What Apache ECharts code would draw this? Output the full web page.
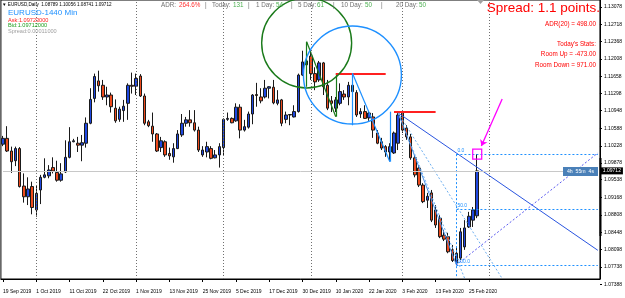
<!DOCTYPE html>
<html>
<head>
<meta charset="utf-8">
<script src="https://cdn.jsdelivr.net/npm/echarts@6/dist/echarts.min.js"></script>
<style>
html, body { margin: 0; padding: 0; background: #fff; }
#main { width: 625px; height: 298px; }
</style>
</head>
<body>
<div id="main"></div>
<script>
// daily bars, EURUSD
const dates = ['19 Sep 2019','20 Sep 2019','23 Sep 2019','24 Sep 2019','25 Sep 2019','26 Sep 2019','27 Sep 2019','30 Sep 2019',
  '1 Oct 2019','2 Oct 2019','3 Oct 2019','4 Oct 2019','7 Oct 2019','8 Oct 2019','9 Oct 2019','10 Oct 2019','11 Oct 2019',
  '14 Oct 2019','15 Oct 2019','16 Oct 2019','17 Oct 2019','18 Oct 2019','20 Oct 2019','21 Oct 2019','22 Oct 2019',
  '23 Oct 2019','24 Oct 2019','25 Oct 2019','28 Oct 2019','29 Oct 2019','30 Oct 2019','31 Oct 2019',
  '1 Nov 2019','4 Nov 2019','5 Nov 2019','6 Nov 2019','7 Nov 2019','8 Nov 2019','11 Nov 2019','12 Nov 2019','13 Nov 2019',
  '14 Nov 2019','15 Nov 2019','18 Nov 2019','19 Nov 2019','20 Nov 2019','21 Nov 2019','22 Nov 2019','25 Nov 2019',
  '26 Nov 2019','27 Nov 2019','28 Nov 2019','29 Nov 2019',
  '2 Dec 2019','3 Dec 2019','4 Dec 2019','5 Dec 2019','6 Dec 2019','9 Dec 2019','10 Dec 2019','11 Dec 2019','12 Dec 2019','13 Dec 2019','16 Dec 2019','17 Dec 2019',
  '18 Dec 2019','19 Dec 2019','20 Dec 2019','23 Dec 2019','24 Dec 2019','26 Dec 2019','27 Dec 2019','30 Dec 2019','31 Dec 2019',
  '2 Jan 2020','3 Jan 2020','6 Jan 2020','7 Jan 2020','8 Jan 2020','9 Jan 2020','10 Jan 2020',
  '13 Jan 2020','14 Jan 2020','15 Jan 2020','16 Jan 2020','17 Jan 2020','20 Jan 2020','21 Jan 2020','22 Jan 2020',
  '23 Jan 2020','24 Jan 2020','27 Jan 2020','28 Jan 2020','29 Jan 2020','30 Jan 2020','31 Jan 2020',
  '3 Feb 2020','4 Feb 2020','5 Feb 2020','6 Feb 2020','7 Feb 2020','10 Feb 2020','11 Feb 2020','12 Feb 2020','13 Feb 2020',
  '14 Feb 2020','17 Feb 2020','18 Feb 2020','19 Feb 2020','20 Feb 2020','21 Feb 2020','24 Feb 2020','25 Feb 2020','26 Feb 2020','27 Feb 2020'];

const opens = [1.1026,1.1038,1.1012,1.0992,1.1017,1.0940,1.0918,1.0939,1.0891,1.0932,
  1.0958,1.0961,1.0978,1.0968,1.0952,1.0969,1.0999,1.1031,1.1028,1.1024,
  1.1028,1.1069,1.1120,1.1156,1.1147,1.1123,1.1127,1.1100,1.1077,1.1095,
  1.1110,1.1147,1.1145,1.1166,1.1125,1.1072,1.1063,1.1047,1.1019,1.1031,
  1.1007,1.1000,1.1017,1.1045,1.1069,1.1076,1.1070,1.1055,1.1004,1.1010,
  1.1017,1.0998,1.1004,1.1019,1.1077,1.1079,1.1074,1.1102,1.1055,1.1061,
  1.1088,1.1128,1.1123,1.1123,1.1141,1.1143,1.1110,1.1117,1.1077,1.1086,
  1.1082,1.1093,1.1168,1.1197,1.1207,1.1171,1.1158,1.1193,1.1147,1.1115,
  1.1100,1.1110,1.1129,1.1123,1.1134,1.1132,1.1088,1.1093,1.1080,1.1082,
  1.1049,1.1031,1.1021,1.1010,1.1008,1.1028,1.1090,1.1059,1.1041,1.0998,
  1.0977,1.0942,1.0911,1.0926,1.0891,1.0874,1.0839,1.0836,1.0809,1.0782,
  1.0792,1.0815,1.0856,1.0870,1.08789];
const closes = [1.1038,1.1012,1.0990,1.1017,1.0939,1.0918,1.0934,1.0896,1.0925,1.0958,
  1.0963,1.0973,1.0971,1.0952,1.0965,1.0999,1.1031,1.1033,1.1024,1.1029,
  1.1069,1.1118,1.1165,1.1146,1.1123,1.1127,1.1103,1.1074,1.1098,1.1104,
  1.1147,1.1145,1.1161,1.1125,1.1069,1.1064,1.1047,1.1012,1.1033,1.1004,
  1.1002,1.1017,1.1047,1.1069,1.1076,1.1070,1.1055,1.1014,1.1014,1.1021,
  1.0997,1.1004,1.1021,1.1077,1.1079,1.1070,1.1102,1.1055,1.1062,1.1088,
  1.1127,1.1126,1.1115,1.1141,1.1144,1.1111,1.1117,1.1069,1.1086,1.1087,
  1.1093,1.1168,1.1195,1.1189,1.1171,1.1154,1.1193,1.1144,1.1100,1.1110,
  1.1117,1.1134,1.1123,1.1147,1.1147,1.1086,1.1093,1.1079,1.1090,1.1055,
  1.1028,1.1018,1.1010,1.1021,1.1049,1.1086,1.1055,1.1041,1.0998,1.0963,
  1.0942,1.0908,1.0919,1.0870,1.0860,1.0836,1.0831,1.0805,1.0787,1.0802,
  1.0846,1.0854,1.0878,1.0891,1.09712];
const lows = [1.1022,1.1010,1.0967,1.0981,1.0937,1.0906,1.0901,1.0882,1.0877,1.0903,
  1.0956,1.0956,1.0966,1.0949,1.0949,1.0967,1.0997,1.1030,1.1010,1.0991,
  1.1019,1.1067,1.1112,1.1134,1.1117,1.1106,1.1091,1.1070,1.1072,1.1072,
  1.1076,1.1130,1.1127,1.1123,1.1065,1.1061,1.1031,1.1010,1.1010,1.1000,
  1.0994,1.0988,1.1016,1.1041,1.1062,1.1062,1.1052,1.1010,1.1000,1.0999,
  1.0995,1.0997,1.0978,1.1002,1.1074,1.1069,1.1072,1.1038,1.1052,1.1058,
  1.1067,1.1103,1.1110,1.1120,1.1120,1.1108,1.1106,1.1063,1.1069,1.1065,
  1.1081,1.1091,1.1166,1.1178,1.1158,1.1137,1.1154,1.1127,1.1096,1.1092,
  1.1092,1.1106,1.1117,1.1106,1.1110,1.1082,1.1080,1.1078,1.1074,1.1039,
  1.1026,1.1014,1.1000,1.0991,1.1006,1.1014,1.1049,1.1035,1.0994,1.0958,
  1.0938,1.0905,1.0895,1.0866,1.0854,1.0833,1.0827,1.0802,1.0784,1.0778,
  1.0788,1.0809,1.0854,1.0856,1.08741];
const highs = [1.1043,1.1063,1.1021,1.1021,1.1020,1.0966,1.0958,1.0949,1.0941,1.0963,
  1.0997,1.0983,1.0999,1.0992,1.0987,1.1034,1.1061,1.1037,1.1041,1.1045,
  1.1081,1.1141,1.1171,1.1177,1.1158,1.1144,1.1132,1.1118,1.1103,1.1117,
  1.1151,1.1173,1.1171,1.1170,1.1130,1.1076,1.1091,1.1049,1.1041,1.1034,
  1.1019,1.1028,1.1055,1.1088,1.1082,1.1096,1.1096,1.1062,1.1022,1.1031,
  1.1022,1.1014,1.1028,1.1079,1.1091,1.1081,1.1110,1.1108,1.1076,1.1093,
  1.1129,1.1152,1.1141,1.1158,1.1145,1.1158,1.1137,1.1119,1.1093,1.1088,
  1.1106,1.1171,1.1218,1.1236,1.1219,1.1184,1.1197,1.1195,1.1158,1.1125,
  1.1123,1.1151,1.1137,1.1154,1.1168,1.1137,1.1100,1.1106,1.1094,1.1090,
  1.1055,1.1039,1.1024,1.1028,1.1052,1.1090,1.1095,1.1065,1.1047,1.1004,
  1.0983,1.0946,1.0926,1.0932,1.0901,1.0880,1.0850,1.0844,1.0819,1.0813,
  1.0854,1.0870,1.0887,1.0897,1.10056];

const priceTicks = [1.13078,1.12718,1.12368,1.12008,1.11658,1.11298,1.10948,1.10588,1.10228,
  1.09878,1.09538,1.09168,1.08808,1.08448,1.08098,1.07738];
const bottomTick = 1.07388;
const bid = 1.09712;
const ask = 1.09723;

// period separators (bar index)
const separators = [8, 32, 53, 74, 96, 117];

// drawn objects, in [bar index, price]
const greenCircle = [73.4, 1.12339, 0.00924];
const blueCircle = [84.3, 1.11681, 0.01006];
const greenLines = [[73.3, 1.12365, 80.3, 1.10825], [73.3, 1.12365, 73.3, 1.1144], [80.3, 1.11716, 80.3, 1.10825]];
const redLines = [[80.3, 1.11716, 91.5, 1.11716], [93.5, 1.10928, 104.1, 1.10928]];
const blueLines = [[84.3, 1.11716, 84.3, 1.10648], [84.3, 1.11716, 93.45, 1.09901], [93.45, 1.10928, 93.45, 1.09901]];
const trendLine = [95.2, 1.10901, 143, 1.0808];
const fanBase = [95.2, 1.10901, 109.4, 1.0778];
const fanDotted = [[95.2, 1.10901, 111.3, 1.0750], [95.2, 1.10901, 120.3, 1.0750]];
const riseLine = [109.4, 1.0778, 143, 1.1008];
const fibLevels = [1.10056, 1.08918, 1.0778];
const fibNames = ['0.0', '50.0', '100.0'];
const fibStart = 109.4;
const arrow = [120.1, 1.11189, 115.3, 1.10223];

const nFuture = 29;
const cats = dates.concat(Array.from({ length: nFuture }, (_, k) => '+' + k));
const candles = dates.map((d, i) => [opens[i], closes[i], lows[i], highs[i]]);
const xEnd = cats.length - 1;

function seg(a, style) {
  return [{ coord: [a[0], a[1]], lineStyle: style }, { coord: [a[2], a[3]] }];
}

const lineData = [];
greenLines.forEach(l => lineData.push(seg(l, { color: '#1a7a1a', width: 1.2, type: 'solid' })));
redLines.forEach(l => lineData.push(seg(l, { color: '#ff2020', width: 1.8, type: 'solid' })));
blueLines.forEach(l => lineData.push(seg(l, { color: '#1e90ff', width: 1.2, type: 'solid' })));
lineData.push(seg(trendLine, { color: '#2a55e0', width: 1, type: 'solid' }));
lineData.push(seg(fanBase, { color: '#4a8fe8', width: 1, type: 'solid' }));
fanDotted.forEach(l => lineData.push(seg(l, { color: '#6fb0f0', width: 1, type: [2, 2] })));
lineData.push(seg(riseLine, { color: '#5a5af0', width: 1, type: [2, 2] }));
fibLevels.forEach((p, k) => {
  lineData.push([
    { coord: [fibStart, p], lineStyle: { color: '#1e90ff', width: 1, type: [2, 2] },
      label: { show: true, position: 'insideStartTop', formatter: fibNames[k], color: '#1e90ff', fontSize: 5, distance: 1 } },
    { coord: [xEnd, p] }
  ]);
});
lineData.push(seg([fibStart, fibLevels[0], fibStart, 1.0750], { color: '#1e90ff', width: 1, type: [2, 2] }));
separators.forEach(s => lineData.push({ xAxis: s, lineStyle: { color: '#707070', width: 1, type: [1, 2] } }));
lineData.push([
  { coord: [0, bid], lineStyle: { color: '#c8c8c8', width: 1, type: 'solid' },
    label: { show: true, position: 'end', formatter: bid.toFixed(5), backgroundColor: '#000', color: '#fff',
      fontSize: 5, padding: [1, 2, 1, 2], distance: 3 } },
  { coord: [xEnd, bid] }
]);
lineData.push([
  { coord: [arrow[0], arrow[1]], lineStyle: { color: '#ff00ff', width: 1.3, type: 'solid' }, symbol: 'none' },
  { coord: [arrow[2], arrow[3]], symbol: 'arrow', symbolSize: 6 }
]);

const circles = [greenCircle.concat(0), blueCircle.concat(1)];
const circleColors = ['#1a7a1a', '#1e90ff'];

const font = 'Liberation Sans';
const txt = (x, y, text, fill, size, align) => ({
  type: 'text', x: x, y: y, z: 100, silent: true,
  style: { text: text, fill: fill, font: size + 'px "' + font + '"', align: align || 'left', verticalAlign: 'middle' }
});

const chart = echarts.init(document.getElementById('main'));
chart.setOption({
  animation: false,
  backgroundColor: '#fff',
  grid: { left: 0, right: 25, top: 0, bottom: 19, show: true, borderColor: '#000', borderWidth: 1 },
  xAxis: {
    type: 'category',
    data: cats,
    boundaryGap: true,
    axisLine: { show: true, lineStyle: { color: '#000' } },
    axisTick: { show: true, alignWithLabel: true, length: 3, interval: (i) => i % 8 === 0 && i < dates.length, lineStyle: { color: '#000' } },
    axisLabel: {
      interval: (i) => i % 8 === 0 && i < dates.length,
      align: 'left', fontSize: 5, color: '#000', margin: 10, fontFamily: font
    },
    splitLine: { show: false }
  },
  yAxis: {
    type: 'value',
    position: 'right',
    min: 1.07491,
    max: 1.13222,
    axisLine: { show: true, lineStyle: { color: '#000' } },
    axisTick: { show: true, length: 2, customValues: priceTicks, lineStyle: { color: '#000' } },
    axisLabel: { customValues: priceTicks, formatter: v => v.toFixed(5), fontSize: 5, color: '#000', margin: 4, fontFamily: font },
    splitLine: { show: false }
  },
  series: [
    {
      type: 'candlestick',
      data: candles,
      barWidth: 3,
      itemStyle: { color: '#1f48e0', color0: '#ee4a1c', borderColor: '#1a1a1a', borderColor0: '#1a1a1a', borderWidth: 1 },
      z: 3
    },
    {
      type: 'line',
      data: [],
      z: 4,
      markLine: { silent: true, symbol: 'none', animation: false, label: { show: false }, data: lineData },
      markPoint: {
        silent: true, animation: false,
        data: [{ coord: [dates.length - 1, highs[highs.length - 1]], symbol: 'rect', symbolSize: [9, 10],
          itemStyle: { color: 'rgba(0,0,0,0)', borderColor: '#ff00ff', borderWidth: 1.3 }, label: { show: false } }]
      }
    },
    {
      type: 'custom',
      data: circles,
      clip: false,
      silent: true,
      z: 5,
      renderItem: (params, api) => {
        const c = api.coord([api.value(0), api.value(1)]);
        const r = api.size([0, api.value(2)])[1];
        return { type: 'circle', shape: { cx: c[0], cy: c[1], r: r },
          style: { fill: 'none', stroke: circleColors[api.value(3)], lineWidth: 1.4 } };
      }
    }
  ],
  graphic: [
    txt(2, 5, '\u25BC EURUSD,Daily  1.08789 1.10056 1.08741 1.09712', '#000', 4.6),
    txt(8, 12.5, 'EURUSD-1440 Min', '#1e90ff', 8),
    txt(8, 20, 'Ask:' + ask.toFixed(8), '#ff2020', 5.6),
    txt(8, 25.5, 'Bid:' + bid.toFixed(8), '#22a022', 5.6),
    txt(8, 31, 'Spread:0.00011000', '#a0a0a0', 5.6),
    txt(161, 5, 'ADR:', '#707070', 6.3),
    txt(179, 5, '264.6%', '#ff3030', 6.3),
    txt(205, 5, '|', '#707070', 6.3),
    txt(212, 5, 'Today:', '#707070', 6.3),
    txt(233, 5, '131', '#4caf50', 6.3),
    txt(248, 5, '|', '#707070', 6.3),
    txt(256, 5, '1 Day:', '#707070', 6.3),
    txt(276, 5, '54', '#4caf50', 6.3),
    txt(291, 5, '|', '#707070', 6.3),
    txt(298, 5, '5 Day:', '#707070', 6.3),
    txt(317, 5, '61', '#4caf50', 6.3),
    txt(333, 5, '|', '#707070', 6.3),
    txt(341, 5, '10 Day:', '#707070', 6.3),
    txt(365, 5, '50', '#4caf50', 6.3),
    txt(381, 5, '|', '#707070', 6.3),
    txt(396, 5, '20 Day:', '#707070', 6.3),
    txt(419, 5, '50', '#4caf50', 6.3),
    txt(600, 8, 'Spread: 1.1 points.', '#ff0000', 13.5, 'right'),
    txt(596, 24, 'ADR(20) = 498.00', '#ff0000', 6.3, 'right'),
    txt(596, 44, "Today's Stats:", '#ff0000', 6.3, 'right'),
    txt(596, 54.5, 'Room Up = -473.00', '#ff0000', 6.3, 'right'),
    txt(596, 65, 'Room Down = 971.00', '#ff0000', 6.3, 'right'),
    { type: 'polygon', z: 100, silent: true, shape: { points: [[477, 0], [484, 0], [480.5, 4]] }, style: { fill: '#a0a0a0' } },
    { type: 'rect', z: 100, silent: true, shape: { x: 563, y: 167, width: 35, height: 9 }, style: { fill: '#4a80b8' } },
    txt(580.5, 171.5, '4h  55m  4s', '#fff', 5.2, 'center'),
    { type: 'rect', z: 100, silent: true, shape: { x: 599.5, y: 158, width: 2, height: 78 }, style: { fill: '#000' } },
    txt(604, 284.5, bottomTick.toFixed(5), '#000', 5),
    { type: 'line', z: 100, silent: true, shape: { x1: 600, y1: 284.5, x2: 602, y2: 284.5 }, style: { stroke: '#000' } }
  ]
});
</script>
</body>
</html>
